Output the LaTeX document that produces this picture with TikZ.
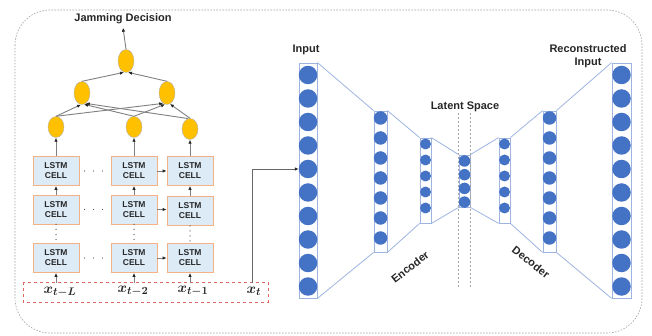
\documentclass[tikz,border=0pt]{standalone}
\usepackage[no-math]{fontspec}
\setmainfont{Liberation Sans}
\usepackage{amsmath}
\usetikzlibrary{
  positioning,
  calc,
  arrows.meta,
  shapes.geometric
  }
\definecolor{gold}{HTML}{FFC000}
\definecolor{cellfill}{HTML}{DDEBF7}
\definecolor{cellline}{HTML}{F4B183}
\definecolor{unitblue}{HTML}{4472C4}
\definecolor{layerline}{HTML}{9DB4E0}
\definecolor{boxred}{HTML}{E06666}
\tikzset{
  >={Latex[length=4pt,width=3.5pt,color=black!85]},
  wire/.style={line width=0.9pt, draw=gray},
  lab/.style={font=\fontsize{11}{12.5}\selectfont\bfseries, text=black!85},
  neuron/.style={ellipse, draw=gray!60, fill=gold, minimum width=16, minimum height=23, inner sep=0pt},
  cell/.style={rectangle, draw=cellline, fill=cellfill, line width=0.8pt, minimum width=46, minimum height=29,
    inner sep=0pt, align=center, font=\fontsize{8.5}{10}\selectfont\bfseries, text=black!85},
  dots/.style={line width=1.3pt, line cap=round, dash pattern=on 0pt off 5pt, draw=black!65},
  xlab/.style={font=\fontsize{15}{16}\selectfont\boldmath, text=black!85},
  inbox/.style={dashed, draw=boxred, line width=0.7pt},
  layer/.style={rectangle, draw=layerline, line width=0.8pt, inner sep=0pt},
  unit/.style={circle, fill=unitblue, inner sep=0pt, outer sep=0pt},
  aeline/.style={draw=layerline, line width=0.8pt},
  latdash/.style={draw=gray!70, dash pattern=on 2pt off 2pt, line width=0.5pt},
  frame/.style={draw=gray!75, dash pattern=on 1.5pt off 1.5pt, line width=0.6pt, rounded corners=35},
}

\begin{document}
\begin{tikzpicture}[x=1pt, y=-1pt]
  \useasboundingbox (0,0) rectangle (652,336);
  \draw[frame] (15,10) rectangle (642,333);
% =========================================================
% (A) LSTM stack with dense head
% =========================================================
  \node[lab] (jam) at (123,19) {Jamming Decision};
  \node[neuron] (top) at (126,61) {};
  \node[neuron] (m1) at (82,93) {};
  \node[neuron] (m2) at (167,93) {};
  \node[neuron, minimum height=21] (b1) at (56,127) {};
  \node[neuron, minimum height=21] (b2) at (134,127) {};
  \node[neuron, minimum height=21] (b3) at (190,129) {};
  \draw[wire,->] (top.north) -- (jam.south);
  \draw[wire,->] (m1.north) -- (top.-100);
  \draw[wire,->] (m2.north) -- (top.-80);
  \draw[wire,->] (b1.north) -- (m1.-95);
  \draw[wire,->] (b2.north) -- (m1.-80);
  \draw[wire,->] (b3.100) -- (m1.-70);
  \draw[wire,->] (b1.north) -- (m2.-110);
  \draw[wire,->] (b2.north) -- (m2.-100);
  \draw[wire,->] (b3.north) -- (m2.-75);
  % cells: row 1 is the top row
  \node[cell] (c11) at (56,171) {LSTM\\CELL};
  \node[cell] (c12) at (134,171) {LSTM\\CELL};
  \node[cell] (c13) at (190,171) {LSTM\\CELL};
  \node[cell] (c21) at (56,209.5) {LSTM\\CELL};
  \node[cell] (c22) at (134,209.5) {LSTM\\CELL};
  \node[cell] (c23) at (190,211) {LSTM\\CELL};
  \node[cell] (c31) at (56,258) {LSTM\\CELL};
  \node[cell] (c32) at (134,258) {LSTM\\CELL};
  \node[cell] (c33) at (190,258) {LSTM\\CELL};
  \draw[wire,->] (c11) -- (b1);
  \draw[wire,->] (c12) -- (b2);
  \draw[wire,->] (c13) -- (b3);
  \draw[wire,->] (c21) -- (c11);
  \draw[wire,->] (c22) -- (c12);
  \draw[wire,->] (c23) -- (c13);
  \draw[wire,->] (c12) -- (c13);
  \draw[wire,->] (c22) -- (c22 -| c23.west);
  \draw[wire,->] (c32) -- (c33);
  \draw[dots] (c21.south) -- (c31.north);
  \draw[dots] (c22.south) -- (c32.north);
  \draw[dots] (c23.south) -- (c33.north);
  \draw[dots, dash pattern=on 0pt off 9pt] ([xshift=5]c11.east) -- ([xshift=-8]c12.west);
  \draw[dots, dash pattern=on 0pt off 9pt] ([xshift=5]c21.east) -- ([xshift=-8]c22.west);
  \draw[dots, dash pattern=on 0pt off 9pt] ([xshift=5]c31.east) -- ([xshift=-8]c32.west);
  % inputs
  \draw[inbox] (23,282) rectangle (268,302);
  \node[xlab] (x1) at (60,292) {$x_{t-L}$};
  \node[xlab] (x2) at (133,291) {$x_{t-2}$};
  \node[xlab] (x3) at (193,291) {$x_{t-1}$};
  \node[xlab] (x4) at (254,291) {$x_{t}$};
  \draw[wire,->] (c31 |- 0,283) -- (c31.south);
  \draw[wire,->] (c32 |- 0,283) -- (c32.south);
  \draw[wire,->] (c33 |- 0,283) -- (c33.south);
% =========================================================
% (B) Autoencoder
% =========================================================
  \node[layer, minimum width=18, minimum height=235] (in) at (308,180.5) {};
  \foreach \i in {1,...,10} \node[unit, minimum size=18.5] (in-\i) at (308,{75+(\i-1)*23.5}) {};
  \node[layer, minimum width=13, minimum height=141] (enc1) at (380.5,181.5) {};
  \foreach \i in {1,...,7} \node[unit, minimum size=13.5] (enc1-\i) at (380.5,{118+(\i-1)*20}) {};
  \node[layer, minimum width=11, minimum height=85] (enc2) at (425.5,180.5) {};
  \foreach \i in {1,...,5} \node[unit, minimum size=11] (enc2-\i) at (425.5,{144+(\i-1)*16}) {};
  \node[layer, minimum width=11, minimum height=52] (lat) at (464.5,181) {};
  \foreach \i in {1,...,4} \node[unit, minimum size=11.5] (lat-\i) at (464.5,{161+(\i-1)*13.7}) {};
  \node[layer, minimum width=11, minimum height=85] (dec1) at (504.5,180.5) {};
  \foreach \i in {1,...,5} \node[unit, minimum size=11] (dec1-\i) at (504.5,{144+(\i-1)*16}) {};
  \node[layer, minimum width=13, minimum height=141] (dec2) at (549.5,181.5) {};
  \foreach \i in {1,...,7} \node[unit, minimum size=13.5] (dec2-\i) at (549.5,{118+(\i-1)*20}) {};
  \node[layer, minimum width=19, minimum height=235] (out) at (621.5,180.5) {};
  \foreach \i in {1,...,10} \node[unit, minimum size=18.5] (out-\i) at (621.5,{75+(\i-1)*23.5}) {};
  \draw[aeline] (in.north east) -- (enc1.north west) (enc1.north east) -- (enc2.north west)
    (enc2.north east) -- (lat.north west) (lat.north east) -- (dec1.north west)
    (dec1.north east) -- (dec2.north west) (dec2.north east) -- (out.north west);
  \draw[aeline] (in.south east) -- (enc1.south west) (enc1.south east) -- (enc2.south west)
    (enc2.south east) -- (lat.south west) (lat.south east) -- (dec1.south west)
    (dec1.south east) -- (dec2.south west) (dec2.south east) -- (out.south west);
  \draw[latdash] ([yshift=42]lat.north west) -- ([yshift=-81]lat.south west);
  \draw[latdash] ([yshift=42]lat.north east) -- ([yshift=-81]lat.south east);
  \node[lab] (inlab) at (306,50) {Input};
  \node[lab, align=center] (outlab) at (588,56) {Reconstructed\\Input};
  \node[lab] (latlab) at (465,107) {Latent Space};
  \node[lab, rotate=38] (enclab) at (410,267) {Encoder};
  \node[lab, rotate=-38] (declab) at (531,262) {Decoder};
  % link from the newest sample
  \draw[wire, draw=gray!80!black, ->] (x4.north -| 252,0) |- (in-5.west);
\end{tikzpicture}
\end{document}
